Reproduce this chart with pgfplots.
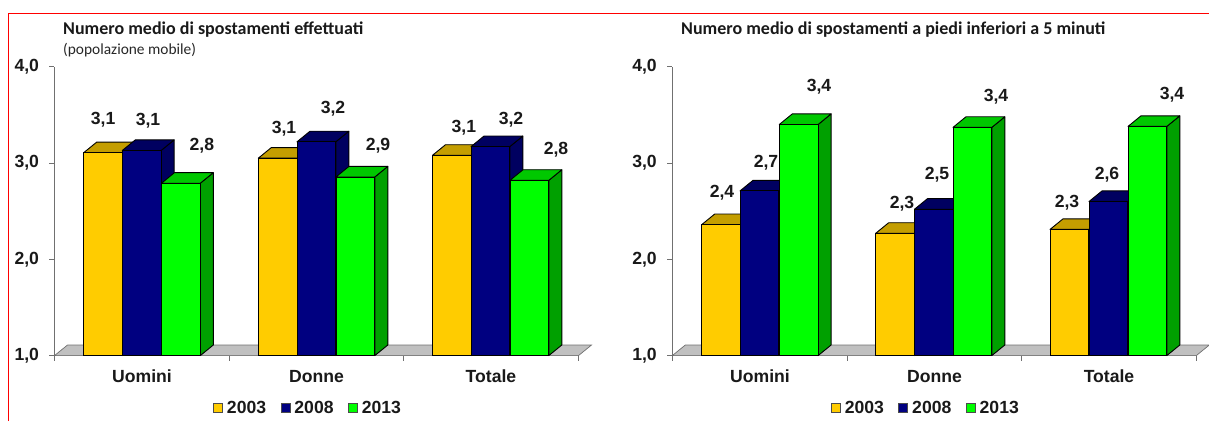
\documentclass[border=0pt]{standalone}
\usepackage{fontspec}
\setmainfont{Liberation Sans}
\newfontfamily\titlefont{Carlito}
\usepackage{pgfplots}
\pgfplotsset{compat=1.18}
\definecolor{yfront}{HTML}{FFCC00}\definecolor{ytop}{HTML}{C49E00}
\definecolor{bfront}{HTML}{000080}\definecolor{btop}{HTML}{000060}
\definecolor{gfront}{HTML}{00FF00}\definecolor{gtop}{HTML}{00C800}\definecolor{gside}{HTML}{00A000}
\definecolor{axgray}{HTML}{707070}\definecolor{floorc}{HTML}{C0C0C0}
\newcommand{\labfont}{\fontsize{17.6}{17.6}\selectfont\bfseries}
% #1 left x (px), #2 value, #3 front, #4 top, #5 side, #6 label, #7 dx, #8 dy
\newcommand{\threedbar}[8]{%
  \pgfmathsetmacro{\xa}{#1+38.8}\pgfmathsetmacro{\xc}{#1+19.4}%
  \pgfmathsetmacro{\xb}{#1+51.8}\pgfmathsetmacro{\xd}{#1+13}%
  \pgfmathsetmacro{\vt}{#2+0.11}%
  \addplot[forget plot,fill=#5,draw=black,line width=.9pt,line join=round]
    coordinates {(\xa,1) (\xb,1.11) (\xb,\vt) (\xa,#2)} --cycle;
  \addplot[forget plot,fill=#4,draw=black,line width=.9pt,line join=round]
    coordinates {(#1,#2) (\xd,\vt) (\xb,\vt) (\xa,#2)} --cycle;
  \addplot[forget plot,ybar,bar width=38.8pt,bar shift=0pt,fill=#3,draw=black,line width=.9pt,
    nodes near coords={#6},
    nodes near coords style={anchor=center,xshift=#7pt,yshift=#8pt,font=\labfont,text=black!90}]
    coordinates {(\xc,#2)};
}
\pgfplotsset{
  chart/.style={
    scale only axis,width=524pt,height=288.9pt,clip=false,
    ymin=1,ymax=4,ytick={1,2,3,4},
    yticklabels={1{,}0,2{,}0,3{,}0,4{,}0},
    axis x line*=bottom,axis y line*=left,
    axis line style={draw=axgray,line width=1pt,-},
    tick style={draw=axgray,line width=.8pt},
    major tick length=5pt,
    tick align=outside,
    y tick label style={font=\labfont,text=black!90,xshift=-7pt},
    x tick label style={font=\labfont,text=black!90,yshift=-6pt},
    xticklabels={},
    extra x tick labels={Uomini,Donne,Totale},
    extra x tick style={tick style={draw=none}},
    legend columns=3,
    legend style={draw=none,fill=none,anchor=center,at={(axis description cs:0.484,-0.1814)},
      font=\labfont,text=black!90,
      /tikz/column 1/.style={column sep=2pt},
      /tikz/column 2/.style={column sep=12.5pt},
      /tikz/column 3/.style={column sep=2pt},
      /tikz/column 4/.style={column sep=12.5pt},
      /tikz/column 5/.style={column sep=2pt},
      inner sep=0pt},
  },
}
\newcommand{\legendset}{%
  \addlegendimage{legend image code/.code={\draw[fill=yfront,draw=black!70,line width=.8pt] (0pt,-4.5pt) rectangle (9pt,4.5pt);}}
  \addlegendentry{2003}
  \addlegendimage{legend image code/.code={\draw[fill=bfront,draw=black!70,line width=.8pt] (0pt,-4.5pt) rectangle (9pt,4.5pt);}}
  \addlegendentry{2008}
  \addlegendimage{legend image code/.code={\draw[fill=gfront,draw=black!70,line width=.8pt] (0pt,-4.5pt) rectangle (9pt,4.5pt);}}
  \addlegendentry{2013}
}
\begin{document}
\begin{tikzpicture}[x=1pt,y=1pt]
\path[use as bounding box] (0,0) rectangle (1209,421);
\draw[red,line width=1.6pt] (8.3,0) -- (8.3,407.6) -- (1209,407.6);

\begin{axis}[chart,at={(54.5pt,65.4pt)},anchor=south west,
  xmin=54.5,xmax=578.5,
  xtick={54.5,229.2,403.8,578.5},
  extra x ticks={142,316.5,491}]
\legendset
\addplot[forget plot,fill=floorc,draw=axgray,line width=.7pt]
  coordinates {(54.5,1) (67.5,1.11) (591.5,1.11) (578.5,1)} --cycle;
\threedbar{83.7}{3.107}{yfront}{ytop}{ytop}{3,1}{0}{32.7}
\threedbar{122.3}{3.13}{bfront}{btop}{btop}{3,1}{6.3}{29.5}
\threedbar{161.5}{2.79}{gfront}{gtop}{gside}{2,8}{21}{38}
\threedbar{258.3}{3.05}{yfront}{ytop}{ytop}{3,1}{6.3}{29.2}
\threedbar{297}{3.22}{bfront}{btop}{btop}{3,2}{16.6}{32.8}
\threedbar{336}{2.855}{gfront}{gtop}{gside}{2,9}{22.6}{31}
\threedbar{432.5}{3.08}{yfront}{ytop}{ytop}{3,1}{12}{27.3}
\threedbar{471}{3.17}{bfront}{btop}{btop}{3,2}{20.6}{26.6}
\threedbar{510}{2.82}{gfront}{gtop}{gside}{2,8}{26.6}{30.3}
\end{axis}

\begin{axis}[chart,at={(672.3pt,65.4pt)},anchor=south west,
  xmin=672.3,xmax=1196.3,
  xtick={672.3,847,1021.6,1196.3},
  extra x ticks={760,934.5,1109}]
\legendset
\addplot[forget plot,fill=floorc,draw=axgray,line width=.7pt]
  coordinates {(672.3,1) (685.3,1.11) (1209.3,1.11) (1196.3,1)} --cycle;
\threedbar{701.7}{2.36}{yfront}{ytop}{ytop}{2,4}{0.9}{31.6}
\threedbar{740}{2.71}{bfront}{btop}{btop}{2,7}{6.6}{27.9}
\threedbar{779.3}{3.40}{gfront}{gtop}{gside}{3,4}{20.3}{37.5}
\threedbar{875.7}{2.27}{yfront}{ytop}{ytop}{2,3}{6.9}{29.3}
\threedbar{914.5}{2.52}{bfront}{btop}{btop}{2,5}{3.1}{34.2}
\threedbar{953}{3.37}{gfront}{gtop}{gside}{3,4}{23.6}{30.4}
\threedbar{1050}{2.31}{yfront}{ytop}{ytop}{2,3}{-2.4}{26.4}
\threedbar{1089}{2.60}{bfront}{btop}{btop}{2,6}{-1.4}{26.5}
\threedbar{1128}{3.38}{gfront}{gtop}{gside}{3,4}{24.6}{31.4}
\end{axis}

\node[anchor=west,inner sep=0pt,font=\titlefont\fontsize{18}{18}\selectfont\bfseries,text=black!90] at (63,391) {Numero medio di spostamenti effettuati};
\node[anchor=west,inner sep=0pt,font=\titlefont\fontsize{15.4}{15.4}\selectfont,text=black!85] at (63,371) {(popolazione mobile)};
\node[anchor=west,inner sep=0pt,font=\titlefont\fontsize{18}{18}\selectfont\bfseries,text=black!90] at (681,391) {Numero medio di spostamenti a piedi inferiori a 5 minuti};
\end{tikzpicture}
\end{document}
